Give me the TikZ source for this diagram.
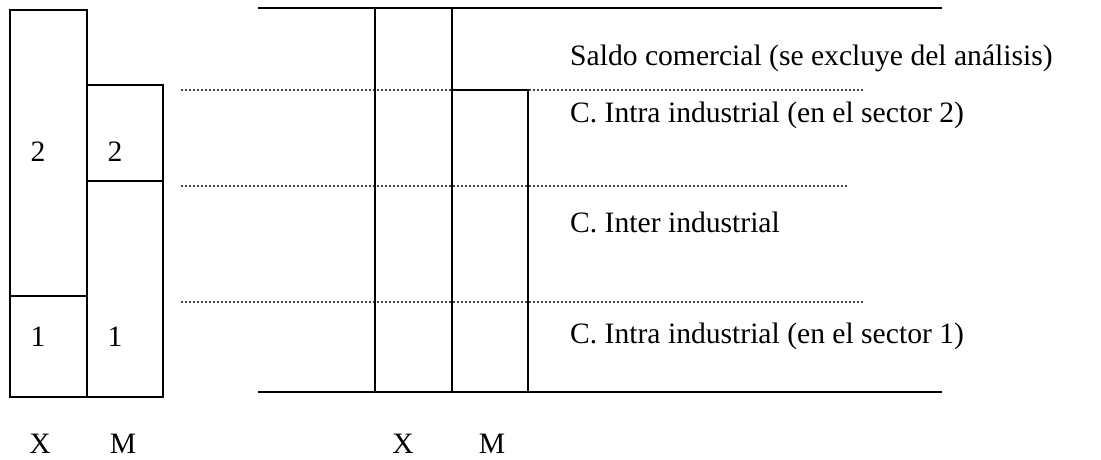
\documentclass[tikz,border=0pt]{standalone}
\usepackage{fontspec}
\setmainfont{Liberation Serif}
\begin{document}
\begin{tikzpicture}[x=1pt,y=-1pt,
  bar/.style={line width=2.7pt},
  axisline/.style={line width=2.9pt},
  dotline/.style={line width=2.1pt,dash pattern=on 0pt off 4pt,line cap=round},
  lbl/.style={inner sep=0pt,font=\fontsize{29.6}{35}\selectfont},
  txt/.style={lbl,anchor=base west}]
\useasboundingbox (0,0) rectangle (1101,459);
% left bars
\draw[bar] (10,10) rectangle (87,397);
\draw[bar] (10,296) -- (87,296);
\draw[bar] (87,85) rectangle (163,397);
\draw[bar] (87,181) -- (163,181);
\node[lbl,anchor=base] (x2) at (38,161) {2};
\node[lbl,anchor=base] (m2) at (115,161) {2};
\node[lbl,anchor=base] (x1) at (38,346) {1};
\node[lbl,anchor=base] (m1) at (115,346) {1};
\node[lbl,anchor=base] (xl) at (40,453) {X};
\node[lbl,anchor=base] (ml) at (123,453) {M};
% dotted lines
\draw[dotline] (182,90) -- (865,90);
\draw[dotline] (182,186) -- (848,186);
\draw[dotline] (182,302) -- (865,302);
% axis lines
\draw[axisline] (258,8) -- (942,8);
\draw[axisline] (258,392) -- (942,392);
% right bars
\draw[bar] (375,8) rectangle (452,392);
\draw[bar] (452,90) rectangle (528,392);
\node[lbl,anchor=base] (xr) at (403,453) {X};
\node[lbl,anchor=base] (mr) at (492,453) {M};
% texts
\node[txt] (t1) at (570,65) {Saldo comercial (se excluye del análisis)};
\node[txt] (t2) at (570,122) {C. Intra industrial (en el sector 2)};
\node[txt] (t3) at (570,232) {C. Inter industrial};
\node[txt] (t4) at (570,343) {C. Intra industrial (en el sector 1)};
\end{tikzpicture}
\end{document}
